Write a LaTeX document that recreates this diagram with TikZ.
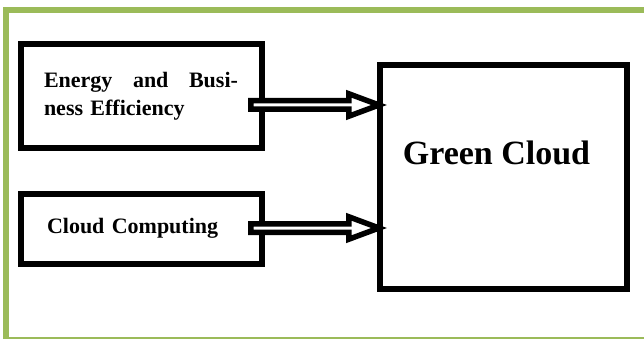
\documentclass[tikz,border=0pt]{standalone}
\usepackage{fontspec}
\setmainfont{Liberation Serif}
\usetikzlibrary{calc}
\definecolor{frameGreen}{HTML}{9BBB59}
\tikzset{
  box/.style={draw=black, line width=6pt, fill=white, outer sep=0pt, inner sep=0pt},
  boxtext/.style={font=\bfseries\fontsize{22}{28}\selectfont},
  fatarrow/.style={draw=black, line width=5.5pt, fill=white, line join=miter, miter limit=10}
}
\begin{document}
\begin{tikzpicture}[x=1pt,y=-1pt]
\clip (0,0) rectangle (644,339);
\useasboundingbox (0,0) rectangle (644,339);
% green frame
\draw[frameGreen, line width=6pt] (6,345) -- (6,10) -- (650,10);
\draw[frameGreen, line width=2pt] (3,337.5) -- (650,337.5);
% boxes
\node[box, boxtext, minimum width=241pt, minimum height=103.5pt, text width=194pt, align=left]
  (b1) at (141,96.25) {Energy\hfill and\hfill Busi-\\ness Efficiency};
\node[box, boxtext, minimum width=241pt, minimum height=69.5pt, text width=188pt, align=left]
  (b2) at (141,228.75) {Cloud Computing};
\node[box, minimum width=247pt, minimum height=223pt] (g) at (503.5,177) {};
\node[font=\bfseries\fontsize{34}{40}\selectfont, inner sep=0pt] (gt) at (496.5,153) {Green Cloud};
% arrows
\foreach \src/\yy/\nm in {b1/105/a1, b2/228/a2}{
  \coordinate (\nm s) at ($(\src.east |- 0,\yy)+(-10.75,0)$);
  \coordinate (\nm e) at ($(g.west |- 0,\yy)+(-1,0)$);
  \draw[fatarrow]
    ($(\nm s)+(0,-4.25)$) -- ($(\nm e)+(-30.25,-4.25)$) -- ($(\nm e)+(-30.25,-11.25)$)
    -- (\nm e)
    -- ($(\nm e)+(-30.25,11.25)$) -- ($(\nm e)+(-30.25,4.25)$) -- ($(\nm s)+(0,4.25)$) -- cycle;
}
\end{tikzpicture}
\end{document}
